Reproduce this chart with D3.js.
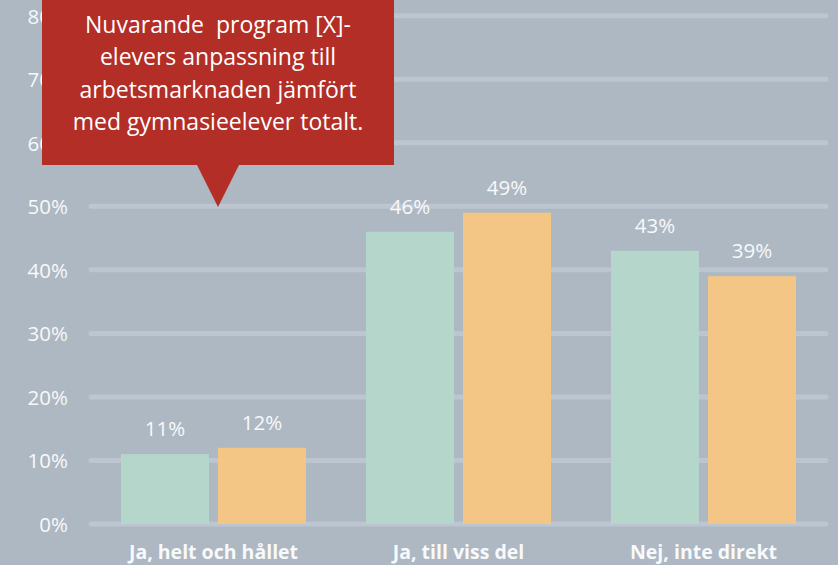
<!DOCTYPE html>
<html><head><meta charset="utf-8">
<script src="https://cdn.jsdelivr.net/npm/d3@7"></script>
<style>
html,body{margin:0;padding:0;background:#adb8c2;overflow:hidden;}
svg{display:block;}
</style></head>
<body>
<script>
const categories = ["Ja, helt och hållet", "Ja, till viss del", "Nej, inte direkt"];
const seriesNames = ["Program [X]", "Gymnasieelever totalt"];
const programValues = [11, 46, 43];
const totalValues = [12, 49, 39];
const yTicks = [0, 10, 20, 30, 40, 50, 60, 70, 80];
const calloutLines = ["Nuvarande  program [X]-", "elevers anpassning till", "arbetsmarknaden jämfört", "med gymnasieelever totalt."];

const W = 838, H = 565;
const colors = ["#b5d6ca", "#f3c686"];
const svg = d3.select("body").append("svg").attr("width", W).attr("height", H);
svg.append("rect").attr("width", W).attr("height", H).attr("fill", "#adb8c2");

const x0 = d3.scaleBand().domain(categories).range([90, 825]).paddingInner(0).paddingOuter(0);
const y = d3.scaleLinear().domain([0, 80]).range([524, 15.7]);

// gridlines
svg.append("g").selectAll("line").data(yTicks).join("line")
  .attr("x1", 91).attr("x2", 826)
  .attr("y1", d => y(d)).attr("y2", d => y(d))
  .attr("stroke", "#bdc5d0").attr("stroke-width", 5).attr("stroke-linecap", "round");

// y axis labels
const yAxis = d3.axisLeft(y).tickValues(yTicks).tickFormat(d => d + "%").tickSize(0).tickPadding(0);
const ya = svg.append("g").attr("transform", "translate(68,0)").call(yAxis);
ya.select(".domain").remove();
ya.selectAll("text").attr("fill", "#f8f9fa").attr("font-family", "Open Sans").attr("font-size", 20.5)
  .attr("dy", "0.36em");

// bars
const barW = 88, gap = 9;
const groupW = barW * 2 + gap;
const x1 = d3.scaleOrdinal().domain([0, 1]).range([0, barW + gap]);
const data = categories.map((c, i) => ({ c, vals: [programValues[i], totalValues[i]] }));
const groups = svg.append("g").selectAll("g").data(data).join("g")
  .attr("transform", d => `translate(${x0(d.c) + x0.bandwidth() / 2 - groupW / 2 + 1},0)`);
groups.selectAll("rect").data(d => d.vals.map((v, k) => ({ v, k }))).join("rect")
  .attr("x", d => x1(d.k)).attr("width", barW)
  .attr("y", d => y(d.v)).attr("height", d => y(0) - y(d.v))
  .attr("fill", d => colors[d.k]);
groups.selectAll("text").data(d => d.vals.map((v, k) => ({ v, k }))).join("text")
  .attr("x", d => x1(d.k) + barW / 2).attr("y", d => y(d.v) - 18)
  .attr("text-anchor", "middle").attr("fill", "#f8f9fa")
  .attr("font-family", "Open Sans").attr("font-size", 20.5)
  .text(d => d.v + "%");

// category labels
const xAxis = d3.axisBottom(x0).tickSize(0).tickPadding(0);
const xa = svg.append("g").attr("transform", "translate(1,559)").call(xAxis);
xa.select(".domain").remove();
xa.selectAll("text").attr("fill", "#f8f9fa").attr("font-family", "Open Sans").attr("font-weight", "bold")
  .attr("font-size", 19.5).attr("dy", 0);

// callout
const co = svg.append("g");
co.append("path").attr("d", "M42,0 L394,0 L394,165 L239,165 L218,207 L197,165 L42,165 Z").attr("fill", "#b22e27");
co.selectAll("text").data(calloutLines).join("text")
  .attr("x", 218).attr("y", (d, i) => 33 + i * 32.3)
  .attr("text-anchor", "middle").attr("fill", "#ffffff")
  .attr("font-family", "Open Sans").attr("font-size", 23)
  .attr("xml:space", "preserve").style("white-space", "pre")
  .text(d => d);
</script>
</body></html>
